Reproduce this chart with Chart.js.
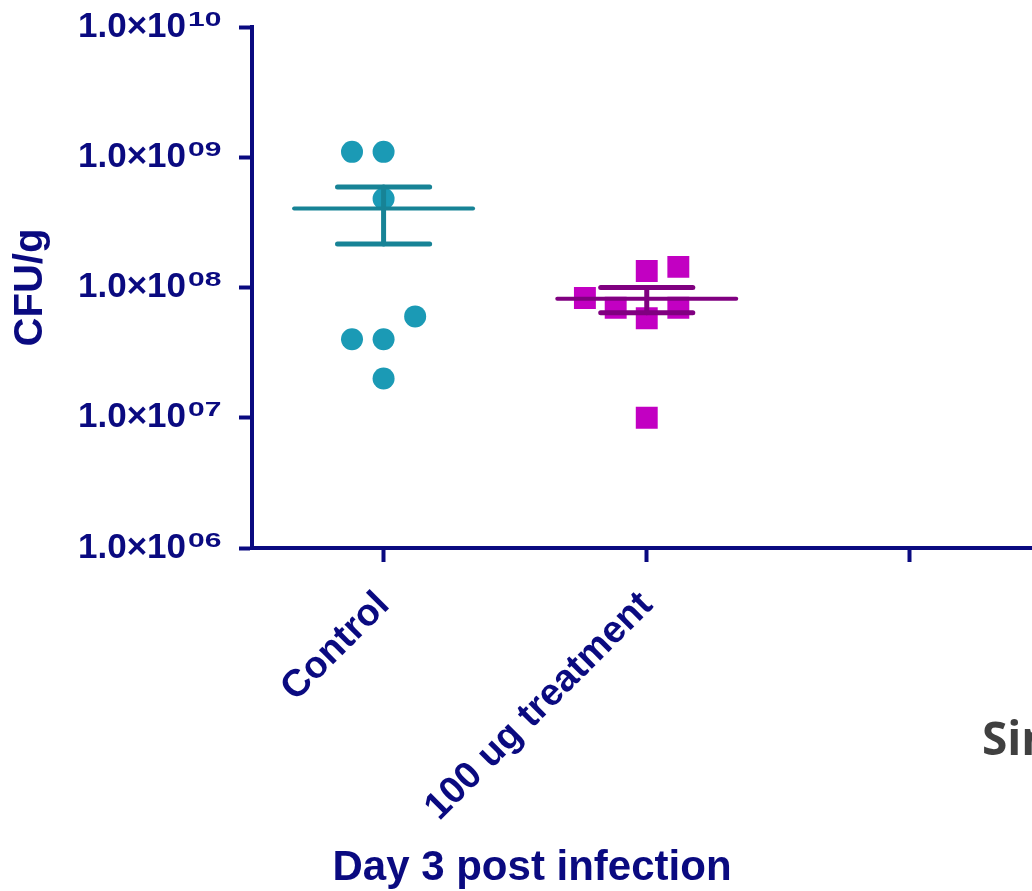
<!DOCTYPE html>
<html>
<head>
<meta charset="utf-8">
<script src="https://cdn.jsdelivr.net/npm/chart.js@4.4.1/dist/chart.umd.min.js"></script>
<style>
    html, body { margin: 0; padding: 0; background: #fff; overflow: hidden; width: 1032px; height: 891px; }
    #wrap { position: relative; width: 1032px; height: 891px; overflow: hidden; }
    canvas { position: absolute; left: 0; top: 0; }
    #side { position: absolute; left: 982px; top: 714px; font-family: "Open Sans", sans-serif; font-weight: 700;
            font-size: 46px; line-height: 46px; color: #404040; white-space: nowrap; }
</style>
</head>
<body>
<div id="wrap">
    <canvas id="chart" width="1057" height="891"></canvas>
    <div id="side">Sin</div>
</div>
<script>
// Data
const categories = ['Control', '100 ug treatment', ''];
const controlValues = [1.1e9, 1.1e9, 4.8e8, 6.0e7, 4.0e7, 4.0e7, 2.0e7];
const controlJitter = [-0.12, 0, 0, 0.12, -0.12, 0, 0];
const treatmentValues = [8.3e7, 1.34e8, 1.44e8, 7.0e7, 5.8e7, 7.0e7, 1.0e7];
const treatmentJitter = [-0.235, 0, 0.12, -0.118, 0, 0.12, 0];
const groupMeans = [4.05e8, 8.2e7];
const groupSemLow = [2.16e8, 6.4e7];
const groupSemHigh = [5.9e8, 1.0e8];
const yTickValues = [1e6, 1e7, 1e8, 1e9, 1e10];
const yAxisTitle = 'CFU/g';
const xAxisTitle = 'Day 3 post infection';

// Styles
const NAVY = '#0a0a80';
const FONT = '"Liberation Sans", Arial, sans-serif';
const CONTROL_DOT = '#1b9ab5';
const CONTROL_LINE = '#178396';
const TREAT_DOT = '#c200c2';
const TREAT_LINE = '#800080';
const MEAN_HALF = 0.34;
const CAP_HALF = 0.175;

function segment(x1, y1, x2, y2, color, width) {
    return {
        data: [{ x: x1, y: y1 }, { x: x2, y: y2 }],
        showLine: true,
        borderColor: color,
        borderWidth: width,
        borderCapStyle: 'round',
        pointRadius: 0,
        pointHoverRadius: 0,
        fill: false,
        order: 0
    };
}

function summaryLines(i, color) {
    return [
        segment(i - MEAN_HALF, groupMeans[i], i + MEAN_HALF, groupMeans[i], color, 4),
        segment(i, groupSemLow[i], i, groupSemHigh[i], color, 5),
        segment(i - CAP_HALF, groupSemHigh[i], i + CAP_HALF, groupSemHigh[i], color, 5),
        segment(i - CAP_HALF, groupSemLow[i], i + CAP_HALF, groupSemLow[i], color, 5)
    ];
}

const datasets = [
    {
        label: categories[0],
        data: controlValues.map((v, k) => ({ x: 0 + controlJitter[k], y: v })),
        pointStyle: 'circle',
        pointRadius: 11,
        pointBackgroundColor: CONTROL_DOT,
        pointBorderWidth: 0,
        order: 1
    },
    {
        label: categories[1],
        data: treatmentValues.map((v, k) => ({ x: 1 + treatmentJitter[k], y: v })),
        pointStyle: 'rect',
        pointRadius: 15.5,
        pointBackgroundColor: TREAT_DOT,
        pointBorderWidth: 0,
        order: 1
    },
    ...summaryLines(0, CONTROL_LINE),
    ...summaryLines(1, TREAT_LINE)
];

function noPadding(s) {
    s.paddingTop = 0;
    s.paddingBottom = 0;
    s.paddingLeft = 0;
    s.paddingRight = 0;
}

// superscript exponents and the x axis title
const extraText = {
    id: 'extraText',
    afterDraw(chart) {
        const ctx = chart.ctx;
        const y = chart.scales.y;
        ctx.save();
        ctx.fillStyle = NAVY;
        ctx.textAlign = 'left';
        ctx.textBaseline = 'middle';
        ctx.font = 'bold 20px ' + FONT;
        yTickValues.forEach(v => {
            const exp = String(Math.round(Math.log10(v))).padStart(2, '0');
            const py = y.getPixelForValue(v);
            ctx.save();
            ctx.translate(y.right - 64, py - 7);
            ctx.scale(1.5, 1);
            ctx.fillText(exp, 0, 0);
            ctx.restore();
        });
        ctx.font = 'bold 42px ' + FONT;
        ctx.textAlign = 'center';
        ctx.textBaseline = 'alphabetic';
        ctx.fillText(xAxisTitle, 532, 880);
        ctx.restore();
    }
};

new Chart(document.getElementById('chart'), {
    type: 'scatter',
    data: { datasets },
    options: {
        responsive: false,
        animation: false,
        layout: { padding: { top: 27, right: 5, left: 0, bottom: 0 } },
        plugins: {
            legend: { display: false },
            tooltip: { enabled: false }
        },
        scales: {
            x: {
                type: 'linear',
                min: -0.5,
                max: 2.5,
                afterBuildTicks: s => { s.ticks = categories.map((c, i) => ({ value: i })); },
                afterFit: s => { s.height = 343; noPadding(s); },
                border: { color: NAVY, width: 4 },
                grid: { drawOnChartArea: false, tickLength: 14, tickWidth: 4, tickColor: NAVY },
                ticks: {
                    autoSkip: false,
                    minRotation: 45,
                    maxRotation: 45,
                    padding: 21,
                    color: NAVY,
                    font: { family: FONT, size: 38, weight: 'bold' },
                    callback: v => categories[v] || ''
                }
            },
            y: {
                type: 'logarithmic',
                min: 1e6,
                max: 1e10,
                afterBuildTicks: s => { s.ticks = yTickValues.map(v => ({ value: v })); },
                afterFit: s => { s.width = 252; noPadding(s); },
                border: { color: NAVY, width: 4 },
                grid: { drawOnChartArea: false, tickLength: 13, tickWidth: 4, tickColor: NAVY },
                ticks: {
                    padding: 53,
                    color: NAVY,
                    font: { family: FONT, size: 35, weight: 'bold' },
                    callback: () => '1.0\u00d710'
                },
                title: {
                    display: true,
                    text: yAxisTitle,
                    color: NAVY,
                    padding: { top: 7, bottom: 0 },
                    font: { family: FONT, size: 40, weight: 'bold' }
                }
            }
        }
    },
    plugins: [extraText]
});
</script>
</body>
</html>
